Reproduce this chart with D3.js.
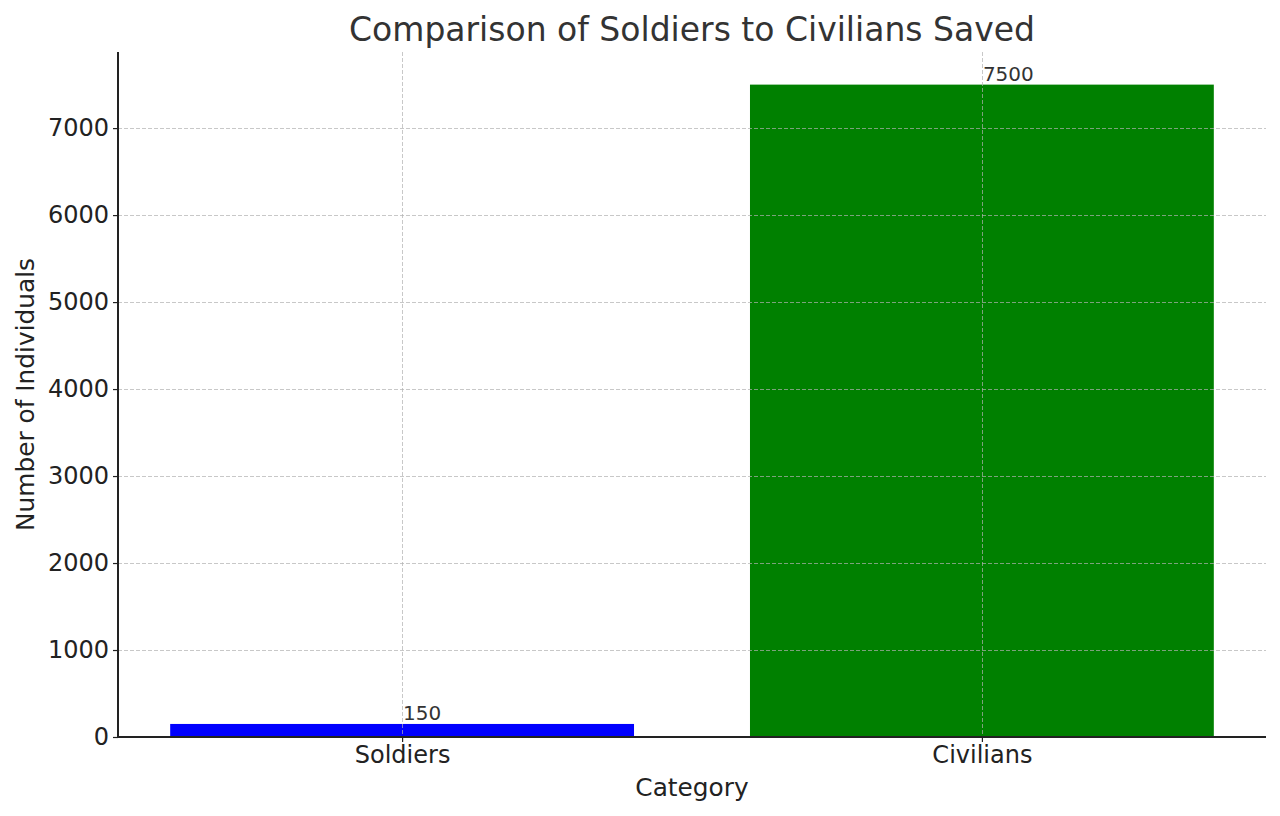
<!DOCTYPE html>
<html>
<head>
<meta charset="utf-8">
<script src="https://cdn.jsdelivr.net/npm/d3@7"></script>
<style>
  html, body { margin: 0; padding: 0; background: #fff; }
  svg { display: block; font-family: "DejaVu Sans", sans-serif; }
</style>
</head>
<body>
<svg id="chart" width="1280" height="816"></svg>
<script>
const categories = ["Soldiers", "Civilians"];
const values = [150, 7500];
const barColors = ["#0000ff", "#008000"];
const yTicks = [0, 1000, 2000, 3000, 4000, 5000, 6000, 7000];
const titleText = "Comparison of Soldiers to Civilians Saved";
const xLabelText = "Category";
const yLabelText = "Number of Individuals";

const svg = d3.select("#chart");
const m = { left: 118, right: 1266, top: 52, bottom: 737 };

const x = d3.scaleLinear().domain([-0.49, 1.49]).range([m.left, m.right]);
const y = d3.scaleLinear().domain([0, 7875]).range([m.bottom, m.top]);
const barW = x(0.4) - x(-0.4);

// bars
svg.append("g").selectAll("rect").data(values).join("rect")
  .attr("x", (d, i) => x(i) - barW / 2)
  .attr("y", d => y(d))
  .attr("width", barW)
  .attr("height", d => y(0) - y(d))
  .attr("fill", (d, i) => barColors[i]);

// grid on top
const grid = svg.append("g").attr("stroke", "#b0b0b0").attr("stroke-opacity", 0.7)
  .attr("stroke-width", 1).attr("stroke-dasharray", "4,2");
grid.selectAll("line.h").data(yTicks).join("line").attr("class", "h")
  .attr("x1", m.left).attr("x2", m.right)
  .attr("y1", d => Math.round(y(d)) + 0.5).attr("y2", d => Math.round(y(d)) + 0.5);
grid.selectAll("line.v").data(categories).join("line").attr("class", "v")
  .attr("y1", m.top).attr("y2", m.bottom)
  .attr("x1", (d, i) => Math.round(x(i)) + 0.5).attr("x2", (d, i) => Math.round(x(i)) + 0.5);

// value labels
svg.append("g").selectAll("text").data(values).join("text")
  .attr("x", (d, i) => x(i) + 1)
  .attr("y", d => y(d) - 4)
  .attr("font-size", 20)
  .attr("fill", "#333")
  .text(d => d);

// y axis
const yAxis = d3.axisLeft(y).tickValues(yTicks).tickSize(5).tickPadding(4).tickFormat(d3.format("d"));
const gy = svg.append("g").attr("transform", `translate(${m.left},0)`).call(yAxis);
gy.select(".domain").remove();
gy.selectAll(".tick line").attr("stroke", "#222").attr("stroke-width", 1.2);
gy.selectAll(".tick text").attr("font-size", 24).attr("fill", "#222")
  .attr("font-family", "DejaVu Sans, sans-serif");
svg.append("line").attr("x1", m.left).attr("x2", m.left).attr("y1", m.top).attr("y2", m.bottom + 1)
  .attr("stroke", "#222").attr("stroke-width", 2);

// x axis
const xAxis = d3.axisBottom(x).tickValues([0, 1]).tickSize(5).tickPadding(4)
  .tickFormat(i => categories[i]);
const gx = svg.append("g").attr("transform", `translate(0,${m.bottom})`).call(xAxis);
gx.select(".domain").remove();
gx.selectAll(".tick line").attr("stroke", "#222").attr("stroke-width", 1.2);
gx.selectAll(".tick text").attr("font-size", 24).attr("fill", "#222")
  .attr("font-family", "DejaVu Sans, sans-serif");
svg.append("line").attr("x1", m.left - 1).attr("x2", m.right).attr("y1", m.bottom).attr("y2", m.bottom)
  .attr("stroke", "#222").attr("stroke-width", 2);

// labels
svg.append("text").attr("x", (m.left + m.right) / 2).attr("y", 41)
  .attr("text-anchor", "middle").attr("font-size", 33).attr("fill", "#333").text(titleText);
svg.append("text").attr("x", (m.left + m.right) / 2).attr("y", 796)
  .attr("text-anchor", "middle").attr("font-size", 24.8).attr("fill", "#222").text(xLabelText);
svg.append("text").attr("transform", `translate(34,${(m.top + m.bottom) / 2}) rotate(-90)`)
  .attr("text-anchor", "middle").attr("font-size", 24.8).attr("fill", "#222").text(yLabelText);
</script>
</body>
</html>
